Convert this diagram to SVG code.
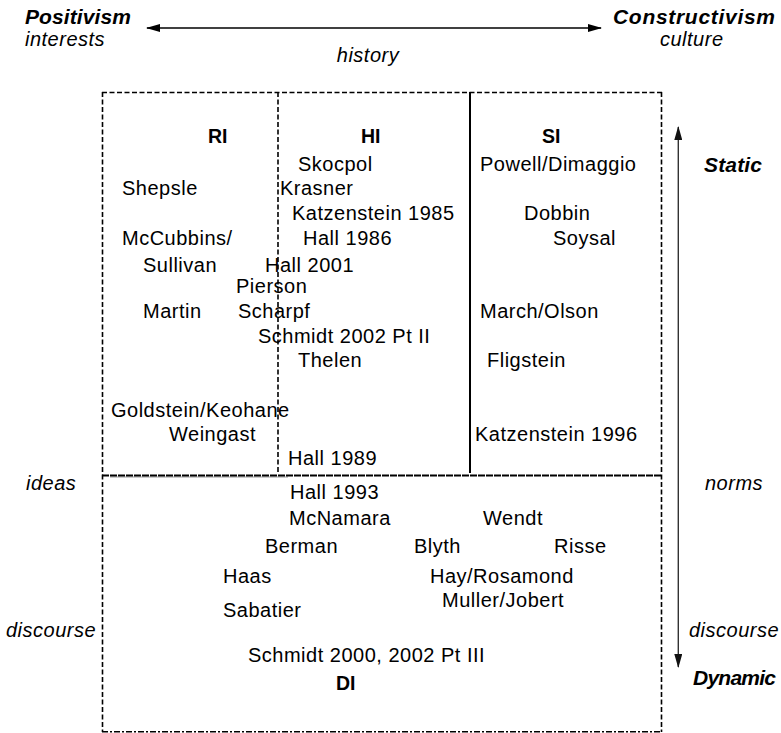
<svg xmlns="http://www.w3.org/2000/svg" width="781" height="733" viewBox="0 0 781 733">
<style>
text{font-family:"Liberation Sans",Arial,Helvetica,sans-serif;font-size:20px;letter-spacing:0.5px;fill:#000}
.h{font-weight:bold;font-size:19.5px;letter-spacing:0}
.i{font-style:italic}
.bi{font-style:italic;font-weight:bold;font-size:21px;letter-spacing:0}
.box{fill:none;stroke:#000;stroke-width:1.6;stroke-dasharray:5 2.5}
.solid{stroke:#000;stroke-width:2;fill:none}
</style>
<defs>
<marker id="ah" viewBox="0 0 14 8" refX="13" refY="4" markerWidth="14" markerHeight="8" markerUnits="userSpaceOnUse" orient="auto-start-reverse">
<path d="M0,0 L14,4 L0,8 Z" fill="#000"/>
</marker>
<marker id="ahg" viewBox="0 0 14 8" refX="13" refY="4" markerWidth="14" markerHeight="8" markerUnits="userSpaceOnUse" orient="auto-start-reverse">
<path d="M0,0 L14,4 L0,8 Z" fill="#111"/>
</marker>
</defs>

<g id="frame">
<line class="box" x1="102" y1="92.5" x2="662" y2="92.5"/>
<line class="box" x1="102.5" y1="92" x2="102.5" y2="732"/>
<line class="box" x1="661.5" y1="92" x2="661.5" y2="732"/>
<line x1="102" y1="731.8" x2="662" y2="731.8" stroke="#000" stroke-width="1.6" stroke-dasharray="6 2 2 2"/>
<line class="box" x1="278" y1="92" x2="278" y2="473"/>
<line class="solid" x1="470" y1="92" x2="470" y2="473"/>
<line x1="110" y1="477" x2="288" y2="477" stroke="#999" stroke-width="1.2"/>
<line x1="102" y1="475.5" x2="662" y2="475.5" stroke="#000" stroke-width="2" stroke-dasharray="7 1"/>
</g>

<g id="connectors">
<line x1="147" y1="28" x2="601" y2="28" stroke="#000" stroke-width="1.4" marker-start="url(#ah)" marker-end="url(#ah)"/>
<line x1="678.3" y1="127" x2="678.3" y2="667" stroke="#333" stroke-width="1.4" marker-start="url(#ahg)" marker-end="url(#ahg)"/>
</g>

<g id="axis-labels">
<text class="bi" x="25" y="24" textLength="106" lengthAdjust="spacing">Positivism</text>
<text class="i" x="25" y="46">interests</text>
<text class="i" x="368" y="62" text-anchor="middle">history</text>
<text class="bi" x="613" y="24" textLength="162" lengthAdjust="spacing">Constructivism</text>
<text class="i" x="660" y="46">culture</text>
<text class="bi" x="704" y="172" textLength="58" lengthAdjust="spacing">Static</text>
<text class="bi" x="693" y="685" textLength="83" lengthAdjust="spacing">Dynamic</text>
<text class="i" x="26" y="490">ideas</text>
<text class="i" x="6" y="637">discourse</text>
<text class="i" x="705" y="490">norms</text>
<text class="i" x="689" y="637">discourse</text>
</g>

<g id="RI">
<text class="h" x="208" y="143">RI</text>
<text x="122" y="195">Shepsle</text>
<text x="122" y="245">McCubbins/</text>
<text x="143" y="272">Sullivan</text>
<text x="143" y="318">Martin</text>
<text x="111" y="417">Goldstein/Keohane</text>
<text x="169" y="441">Weingast</text>
</g>

<g id="HI">
<text class="h" x="361" y="143">HI</text>
<text x="298" y="171">Skocpol</text>
<text x="280" y="195">Krasner</text>
<text x="292" y="220">Katzenstein 1985</text>
<text x="303" y="245">Hall 1986</text>
<text x="265" y="272">Hall 2001</text>
<text x="236" y="293">Pierson</text>
<text x="238" y="318">Scharpf</text>
<text x="258" y="343">Schmidt 2002 Pt II</text>
<text x="298" y="367">Thelen</text>
<text x="288" y="465">Hall 1989</text>
</g>

<g id="SI">
<text class="h" x="542" y="143">SI</text>
<text x="480" y="171">Powell/Dimaggio</text>
<text x="524" y="220">Dobbin</text>
<text x="553" y="245">Soysal</text>
<text x="480" y="318">March/Olson</text>
<text x="487" y="367">Fligstein</text>
<text x="475" y="441">Katzenstein 1996</text>
</g>

<g id="DI">
<text x="290" y="499">Hall 1993</text>
<text x="289" y="525">McNamara</text>
<text x="483" y="525">Wendt</text>
<text x="265" y="553">Berman</text>
<text x="414" y="553">Blyth</text>
<text x="554" y="553">Risse</text>
<text x="223" y="583">Haas</text>
<text x="430" y="583">Hay/Rosamond</text>
<text x="442" y="607">Muller/Jobert</text>
<text x="223" y="617">Sabatier</text>
<text x="248" y="662">Schmidt 2000, 2002 Pt III</text>
<text class="h" x="336" y="690">DI</text>
</g>
</svg>
